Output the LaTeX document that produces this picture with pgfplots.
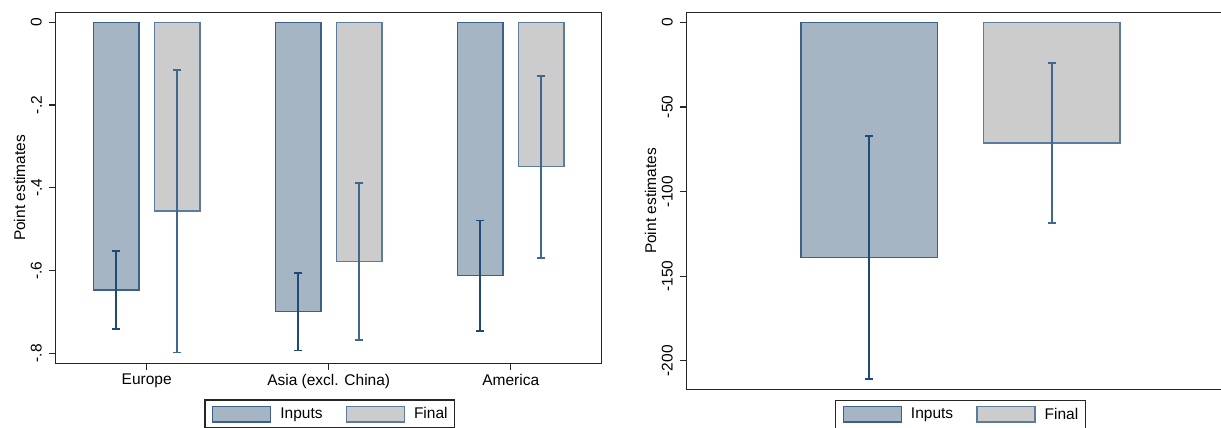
\documentclass[border=0pt]{standalone}
\usepackage{fontspec}
\setmainfont{Liberation Sans}
\usepackage{pgfplots}
\pgfplotsset{compat=1.18}
\definecolor{inpfill}{HTML}{A6B5C4}
\definecolor{inpline}{HTML}{3D6088}
\definecolor{finfill}{HTML}{CCCCCC}
\definecolor{finline}{HTML}{5C7C9E}
\definecolor{ciinp}{HTML}{1F4A78}
\definecolor{cifin}{HTML}{3F6790}
\definecolor{frame}{HTML}{262626}
\pgfplotsset{
  statastyle/.style={
    scale only axis,
    axis line style={draw=frame, line width=1.5pt},
    tick style={draw=frame, line width=1.2pt},
    major tick length=7pt,
    tick align=outside,
    tick pos=left,
    yticklabel style={rotate=90, anchor=south, inner sep=6.7pt},
    xticklabel style={anchor=north, inner sep=3.3pt},
    every axis y label/.style={at={([xshift=-30.3pt]rel axis cs:0,0.5)}, rotate=90, anchor=south, inner sep=0pt},
    legend columns=2,
    legend style={anchor=north, draw=frame, line width=1.4pt, inner xsep=7pt, inner ysep=5.5pt,
      /tikz/every even column/.append style={column sep=23pt},
      /tikz/every odd column/.append style={column sep=9pt},
      nodes={inner sep=0pt}},
    unbounded coords=jump,
  },
  leginp/.style={legend image code/.code={\draw[fill=inpfill, draw=inpline, line width=1.4pt] (0pt,-7.8pt) rectangle (58pt,7.8pt);}},
  legfin/.style={legend image code/.code={\draw[fill=finfill, draw=finline, line width=1.4pt] (0pt,-7.8pt) rectangle (58pt,7.8pt);}},
  ciinpstyle/.style={forget plot, draw=ciinp, line width=1.8pt, mark=-, mark size=4pt, mark options={draw=ciinp, line width=1.8pt}},
  cifinstyle/.style={forget plot, draw=cifin, line width=1.8pt, mark=-, mark size=4pt, mark options={draw=cifin, line width=1.8pt}},
}
\begin{document}
\begin{tikzpicture}[x=1pt,y=1pt,font=\fontsize{15.5}{18.6}\selectfont]
\useasboundingbox (0,0) rectangle (1221,428);
% Left panel
\begin{axis}[statastyle,
  at={(55.7pt,64.7pt)}, anchor=south west,
  width=546pt, height=350.6pt,
  xmin=0.5, xmax=3.5, ymin=-0.824, ymax=0.0232,
  xtick={1,2,3}, xticklabels={Europe, Asia (excl. China), America},
  ytick={-0.8,-0.6,-0.4,-0.2,0}, yticklabels={-.8,-.6,-.4,-.2,0},
  ylabel={Point estimates},
  legend style={at={(0.502,-0.1027)}},
]
\addplot[ybar, bar width=0.25, bar shift=0, fill=inpfill, draw=inpline, line width=1.4pt, leginp]
  coordinates {(0.833,-0.647) (1.833,-0.699) (2.833,-0.612)};
\addlegendentry{Inputs}
\addplot[ybar, bar width=0.25, bar shift=0, fill=finfill, draw=finline, line width=1.4pt, legfin]
  coordinates {(1.168,-0.456) (2.168,-0.578) (3.168,-0.349)};
\addlegendentry{Final}
% confidence intervals: (x, upper) (x, lower), segments separated by nan
\addplot[ciinpstyle] coordinates {
  (0.833,-0.552) (0.833,-0.742) (0.833,nan)
  (1.833,-0.605) (1.833,-0.793) (1.833,nan)
  (2.833,-0.479) (2.833,-0.746)};
\addplot[cifinstyle] coordinates {
  (1.168,-0.115) (1.168,-0.798) (1.168,nan)
  (2.168,-0.388) (2.168,-0.767) (2.168,nan)
  (3.168,-0.129) (3.168,-0.569)};
\end{axis}
% Right panel
\begin{axis}[statastyle,
  at={(686.7pt,38.7pt)}, anchor=south west,
  width=547.4pt, height=376.6pt,
  xmin=0, xmax=3, ymin=-216.8, ymax=5.67,
  xtick=\empty,
  ytick={-200,-150,-100,-50,0}, yticklabels={-200,-150,-100,-50,0},
  ylabel={Point estimates},
  legend style={at={(0.5,-0.0276)}},
]
\addplot[ybar, bar width=0.748, bar shift=0, fill=inpfill, draw=inpline, line width=1.4pt, leginp]
  coordinates {(1,-138.8)};
\addlegendentry{Inputs}
\addplot[ybar, bar width=0.748, bar shift=0, fill=finfill, draw=finline, line width=1.4pt, legfin]
  coordinates {(2,-71.2)};
\addlegendentry{Final}
\addplot[ciinpstyle] coordinates {(1,-67.0) (1,-210.9)};
\addplot[cifinstyle] coordinates {(2,-24.0) (2,-118.5)};
\end{axis}
\end{tikzpicture}
\end{document}
